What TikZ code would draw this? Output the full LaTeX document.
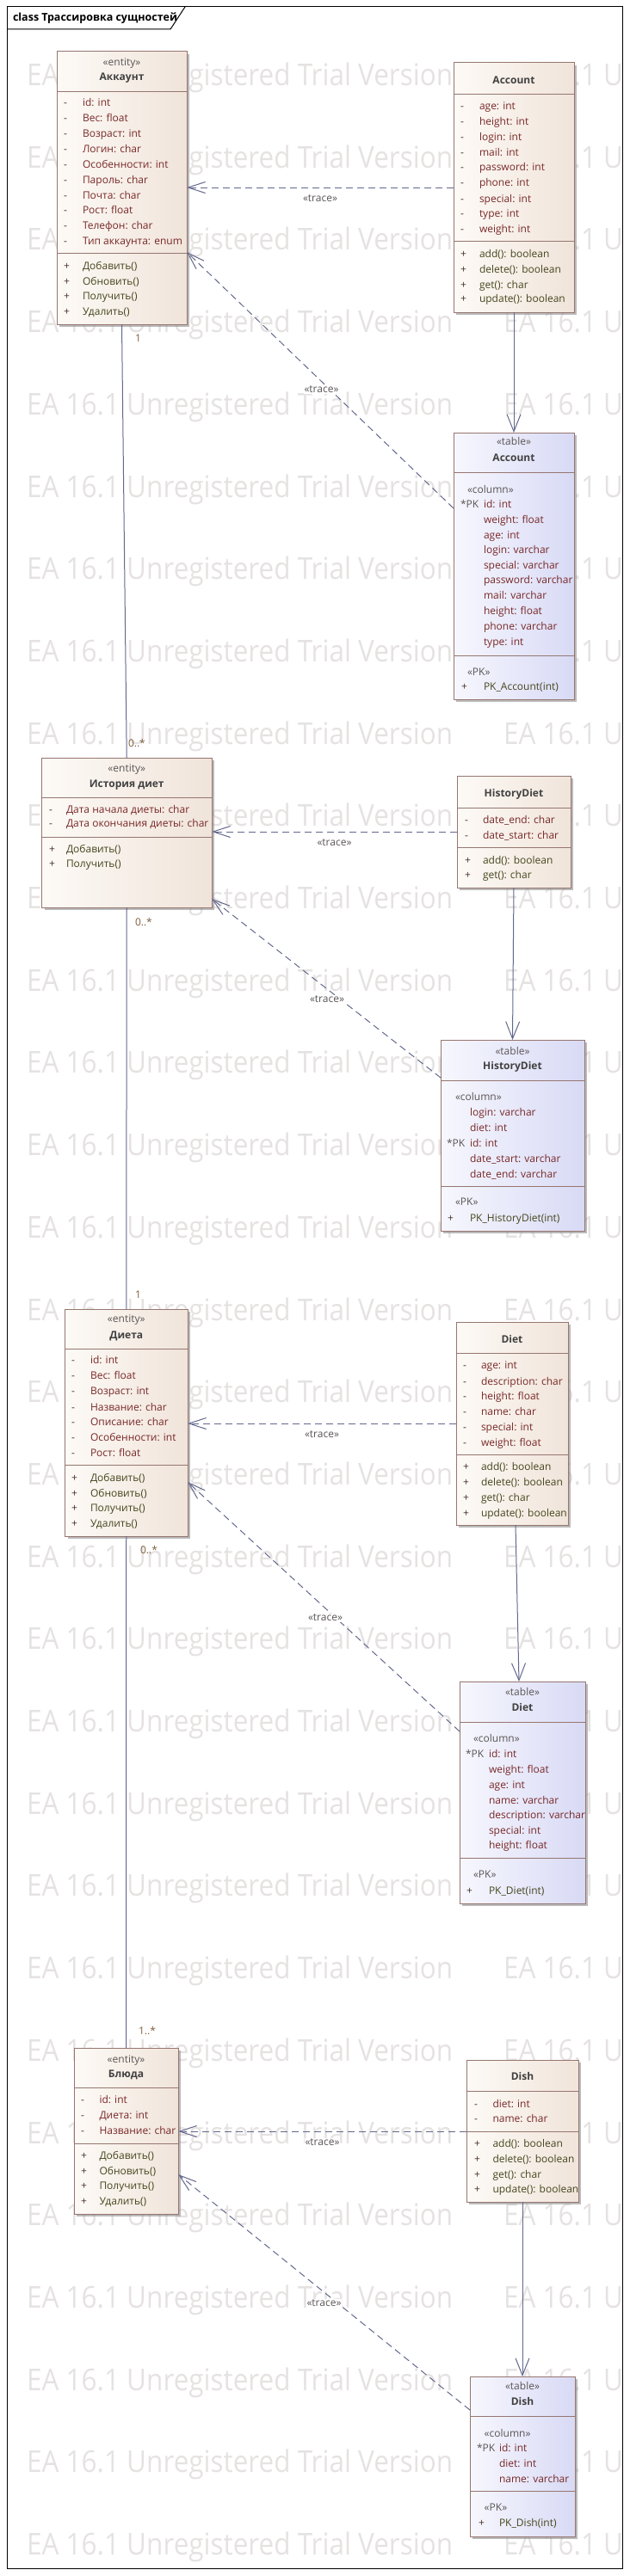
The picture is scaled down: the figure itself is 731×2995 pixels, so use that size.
\documentclass[tikz,border=0pt]{standalone}
\usepackage{fontspec}
\setmainfont{Open Sans}
\newfontfamily\wmfont[FakeStretch=0.9]{Open Sans}
\usetikzlibrary{arrows.meta,shadows}
\definecolor{cbord}{RGB}{150,118,112}
\definecolor{cfillL}{RGB}{253,250,246}
\definecolor{cfillR}{RGB}{240,228,218}
\definecolor{tfillL}{RGB}{247,247,254}
\definecolor{tfillR}{RGB}{216,218,245}
\definecolor{attrc}{RGB}{120,40,40}
\definecolor{methc}{RGB}{70,70,30}
\definecolor{markc}{RGB}{70,50,40}
\definecolor{stc}{RGB}{90,85,85}
\definecolor{namec}{RGB}{65,65,65}
\definecolor{linec}{RGB}{98,104,140}
\definecolor{multc}{RGB}{125,95,60}
\definecolor{wmc}{RGB}{230,226,226}
\tikzset{
 every node/.style={inner sep=0pt, outer sep=0pt},
 box/.style={draw=cbord, line width=1pt, anchor=north west,
   drop shadow={shadow xshift=3pt, shadow yshift=-3pt, fill=black!45, opacity=0.6}},
 entbox/.style={box, left color=cfillL, right color=cfillR},
 tabbox/.style={box, left color=tfillL, right color=tfillR},
 divl/.style={draw=cbord, line width=1pt},
 txt/.style={font=\fontsize{12}{14}\selectfont, anchor=base west, yshift=-4.5pt},
 attr/.style={txt, text=attrc},
 meth/.style={txt, text=methc},
 mk/.style={txt, text=markc},
 ster/.style={txt, anchor=base, text=stc},
 cname/.style={txt, anchor=base, text=namec, font=\fontsize{12}{14}\selectfont\bfseries},
 colst/.style={txt, text=stc},
 wm/.style={font=\wmfont\fontsize{35}{40}\selectfont, text=wmc, anchor=base west, yshift=-12.5pt},
 trace/.style={draw=linec, line width=1pt, dash pattern=on 8pt off 5pt, -{Straight Barb[length=20pt,width=13pt]}},
 real/.style={draw=linec, line width=1pt, -{Straight Barb[length=20pt,width=16pt]}},
 assoc/.style={draw=linec, line width=1pt},
 tlab/.style={font=\fontsize{12}{14}\selectfont, text=stc, fill=white, inner sep=1pt},
 mult/.style={txt, text=multc},
 ttlst/.style={font=\fontsize{12.5}{14}\selectfont\bfseries, anchor=west, text=black}
}
\newcommand{\rowsA}[4]{%
 \foreach \yy/\lbl [count=\ii] in {#4} {
   \node[mk] (#1m\ii) at (#2,\yy) {-};
   \node[attr] (#1a\ii) at (#3,\yy) {\lbl};
 }}
\newcommand{\rowsM}[4]{%
 \foreach \yy/\lbl [count=\ii] in {#4} {
   \node[mk] (#1p\ii) at (#2,\yy) {+};
   \node[meth] (#1o\ii) at (#3,\yy) {\lbl};
 }}
\newcommand{\rowsC}[3]{%
 \foreach \yy/\lbl [count=\ii] in {#3} {
   \node[attr] (#1c\ii) at (#2,\yy) {\lbl};
 }}
\newcommand{\hdiv}[2]{\draw[divl] (#1.west |- 0,#2) -- (#1.east |- 0,#2);}
\begin{document}
\begin{tikzpicture}[x=1pt,y=-1pt]
\useasboundingbox (0,0) rectangle (731,2995);
% watermark
\begin{scope}
\clip (0,0) rectangle (731,2995);
\foreach \k in {0,...,30} {
  \node[wm] (wma\k) at (31,87+95.7*\k) {EA 16.1 Unregistered Trial Version};
  \node[wm] (wmb\k) at (585,87+95.7*\k) {EA 16.1 U};
}
\end{scope}
% frame
\node[draw=black, line width=1pt, minimum width=715pt, minimum height=2978pt, anchor=north west] (frame) at (8,8) {};
\draw[line width=1pt] (8,34) -- (198,34) -- (215,8);
\node[ttlst] (ttl) at (15,21) {class Трассировка сущностей};

% ===== Аккаунт
\node[entbox, minimum width=151pt, minimum height=317pt] (akk) at (66,60) {};
\hdiv{akk}{106}\hdiv{akk}{294}
\node[ster] (akks) at (141.5,72) {«entity»};
\node[cname] (akkn) at (141.5,89) {Аккаунт};
\rowsA{akk}{74}{96}{119.3/{id: int},137.3/{Вес: float},154.8/{Возраст: int},172.7/{Логин: char},190.5/{Особенности: int},208.5/{Пароль: char},226.5/{Почта: char},244/{Рост: float},262/{Телефон: char},279.5/{Тип аккаунта: enum}}
\rowsM{akk}{74}{96}{309/{Добавить()},326.5/{Обновить()},344/{Получить()},362/{Удалить()}}

% ===== Account
\node[entbox, minimum width=140pt, minimum height=290pt] (acc) at (527,73) {};
\hdiv{acc}{109}\hdiv{acc}{280}
\node[cname] (accn) at (597,93) {Account};
\rowsA{acc}{535}{557}{123.3/{age: int},141/{height: int},159.3/{login: int},176.7/{mail: int},194.3/{password: int},212.3/{phone: int},230.7/{special: int},247.7/{type: int},265.7/{weight: int}}
\rowsM{acc}{535}{557}{295/{add(): boolean},312.7/{delete(): boolean},330.7/{get(): char},347.3/{update(): boolean}}

% ===== table Account
\node[tabbox, minimum width=140pt, minimum height=310pt] (tacc) at (527,503) {};
\hdiv{tacc}{549}\hdiv{tacc}{762}
\node[ster] (taccs) at (597,513.3) {«table»};
\node[cname] (taccn) at (597,532.3) {Account};
\node[colst] (tacccol) at (543,569.3) {«column»};
\node[colst] (taccpk) at (535,585.7) {*PK};
\rowsC{tacc}{562}{585.7/{id: int},603.7/{weight: float},621.7/{age: int},639.3/{login: varchar},656.7/{special: varchar},674.3/{password: varchar},692.3/{mail: varchar},710/{height: float},728.3/{phone: varchar},745.7/{type: int}}
\node[colst] (taccpks) at (543,780.7) {«PK»};
\node[mk] (taccplus) at (536,798.3) {+};
\node[meth] (taccpkf) at (562,798.3) {PK\_Account(int)};

% ===== История диет
\node[entbox, minimum width=197.5pt, minimum height=174pt] (hist) at (48.5,881) {};
\hdiv{hist}{927}\hdiv{hist}{973}
\node[ster] (hists) at (147.25,892.7) {«entity»};
\node[cname] (histn) at (147.25,910.7) {История диет};
\rowsA{hist}{57}{77}{940.7/{Дата начала диеты: char},957.3/{Дата окончания диеты: char}}
\rowsM{hist}{57}{77}{986.7/{Добавить()},1004.3/{Получить()}}

% ===== HistoryDiet
\node[entbox, minimum width=132pt, minimum height=130pt] (hd) at (531,902) {};
\hdiv{hd}{939}\hdiv{hd}{985}
\node[cname] (hdn) at (597,922.3) {HistoryDiet};
\rowsA{hd}{540}{561}{952.7/{date\_end: char},970.7/{date\_start: char}}
\rowsM{hd}{540}{561}{1000/{add(): boolean},1016.7/{get(): char}}

% ===== table HistoryDiet
\node[tabbox, minimum width=167pt, minimum height=222pt] (thd) at (512,1209) {};
\hdiv{thd}{1256}\hdiv{thd}{1379}
\node[ster] (thds) at (595.5,1221.7) {«table»};
\node[cname] (thdn) at (595.5,1239.3) {HistoryDiet};
\node[colst] (thdcol) at (529,1275) {«column»};
\node[colst] (thdpk) at (519,1328.7) {*PK};
\rowsC{thd}{546}{1293.3/{login: varchar},1310.7/{diet: int},1328.7/{id: int},1346.7/{date\_start: varchar},1365/{date\_end: varchar}}
\node[colst] (thdpks) at (529,1397.3) {«PK»};
\node[mk] (thdplus) at (520,1416) {+};
\node[meth] (thdpkf) at (546,1416) {PK\_HistoryDiet(int)};

% ===== Диета
\node[entbox, minimum width=142.5pt, minimum height=264pt] (diet) at (75.5,1522) {};
\hdiv{diet}{1568}\hdiv{diet}{1703}
\node[ster] (diets) at (146.75,1533.3) {«entity»};
\node[cname] (dietn) at (146.75,1551.7) {Диета};
\rowsA{diet}{83}{105}{1581/{id: int},1599.3/{Вес: float},1617.3/{Возраст: int},1635.7/{Название: char},1652.7/{Описание: char},1670.7/{Особенности: int},1688.7/{Рост: float}}
\rowsM{diet}{83}{105}{1717.7/{Добавить()},1736/{Обновить()},1753.3/{Получить()},1771/{Удалить()}}

% ===== Diet
\node[entbox, minimum width=130pt, minimum height=236pt] (dt) at (530,1537) {};
\hdiv{dt}{1573}\hdiv{dt}{1691}
\node[cname] (dtn) at (595,1557.3) {Diet};
\rowsA{dt}{538}{559}{1587.3/{age: int},1605.7/{description: char},1622.7/{height: float},1640.7/{name: char},1658.7/{special: int},1676.7/{weight: float}}
\rowsM{dt}{538}{559}{1705/{add(): boolean},1722.7/{delete(): boolean},1740.7/{get(): char},1758.7/{update(): boolean}}

% ===== table Diet
\node[tabbox, minimum width=146pt, minimum height=258pt] (tdt) at (534,1955) {};
\hdiv{tdt}{2002}\hdiv{tdt}{2160}
\node[ster] (tdts) at (607,1967.3) {«table»};
\node[cname] (tdtn) at (607,1985.3) {Diet};
\node[colst] (tdtcol) at (550,2020.7) {«column»};
\node[colst] (tdtpk) at (541,2038.7) {*PK};
\rowsC{tdt}{568}{2038.7/{id: int},2056.7/{weight: float},2074.7/{age: int},2092.7/{name: varchar},2110/{description: varchar},2127.7/{special: int},2145.3/{height: float}}
\node[colst] (tdtpks) at (550,2179.3) {«PK»};
\node[mk] (tdtplus) at (542,2197.7) {+};
\node[meth] (tdtpkf) at (568,2197.7) {PK\_Diet(int)};

% ===== Блюда
\node[entbox, minimum width=121pt, minimum height=193pt] (blu) at (86,2381) {};
\hdiv{blu}{2427}\hdiv{blu}{2492}
\node[ster] (blus) at (146.5,2394) {«entity»};
\node[cname] (blun) at (146.5,2410.7) {Блюда};
\rowsA{blu}{94}{115.5}{2440.7/{id: int},2458.7/{Диета: int},2476.7/{Название: char}}
\rowsM{blu}{94}{115.5}{2506/{Добавить()},2523.7/{Обновить()},2541/{Получить()},2559/{Удалить()}}

% ===== Dish
\node[entbox, minimum width=130pt, minimum height=165pt] (dsh) at (542,2395) {};
\hdiv{dsh}{2431}\hdiv{dsh}{2478}
\node[cname] (dshn) at (607,2414.3) {Dish};
\rowsA{dsh}{551}{572.5}{2445.7/{diet: int},2463/{name: char}}
\rowsM{dsh}{551}{572.5}{2491.7/{add(): boolean},2510/{delete(): boolean},2528/{get(): char},2545/{update(): boolean}}

% ===== table Dish
\node[tabbox, minimum width=122pt, minimum height=186pt] (tdsh) at (546,2763) {};
\hdiv{tdsh}{2809}\hdiv{tdsh}{2896}
\node[ster] (tdshs) at (607,2774) {«table»};
\node[cname] (tdshn) at (607,2792.3) {Dish};
\node[colst] (tdshcol) at (562.7,2828.7) {«column»};
\node[colst] (tdshpk) at (554,2845.7) {*PK};
\rowsC{tdsh}{580}{2845.7/{id: int},2863.7/{diet: int},2881.7/{name: varchar}}
\node[colst] (tdshpks) at (562.7,2915.3) {«PK»};
\node[mk] (tdshplus) at (556,2933.3) {+};
\node[meth] (tdshpkf) at (580,2933.3) {PK\_Dish(int)};

% ===== connectors: realisation to tables
\draw[real] (acc.south) -- (tacc.north);
\draw[real] (hd.south) -- (thd.north);
\draw[real] (dt.south -| 599,0) -- (tdt.north -| 603,0);
\draw[real] (dsh.south) -- (tdsh.north);

% ===== trace (horizontal)
\draw[trace] (acc.west) -- (akk.east |- acc.west) node[tlab, midway, yshift=-13pt] (tr1) {«trace»};
\draw[trace] (hd.west) -- (hist.east |- hd.west) node[tlab, midway, yshift=-13pt] (tr2) {«trace»};
\draw[trace] (dt.west) -- (diet.east |- dt.west) node[tlab, midway, yshift=-13pt] (tr3) {«trace»};
\draw[trace] (dsh.west |- 0,2478) -- (blu.east |- 0,2478) node[tlab, midway, yshift=-13pt] (tr4) {«trace»};

% ===== trace (diagonal)
\draw[trace] (tacc.west |- 0,591) -- (akk.east |- 0,293) node[tlab, midway, yshift=-11pt, xshift=1.5pt] (tr5) {«trace»};
\draw[trace] (thd.west |- 0,1253) -- (hist.east |- 0,1045) node[tlab, midway, yshift=-13pt, xshift=1pt] (tr6) {«trace»};
\draw[trace] (tdt.west |- 0,2013) -- (diet.east |- 0,1723) node[tlab, midway, yshift=-13pt, xshift=2pt] (tr7) {«trace»};
\draw[trace] (tdsh.west |- 0,2802) -- (blu.east |- 0,2528) node[tlab, midway, yshift=-13pt] (tr8) {«trace»};

% ===== associations
\draw[assoc] (akk.south) -- (hist.north);
\draw[assoc] (hist.south) -- (diet.north);
\draw[assoc] (diet.south) -- (blu.north);
\node[mult] (m1) at (157,393) {1};
\node[mult] (m2) at (149,864) {0..*};
\node[mult] (m3) at (157,1072) {0..*};
\node[mult] (m4) at (157,1505) {1};
\node[mult] (m5) at (163,1802) {0..*};
\node[mult] (m6) at (161,2361) {1..*};
\end{tikzpicture}
\end{document}
